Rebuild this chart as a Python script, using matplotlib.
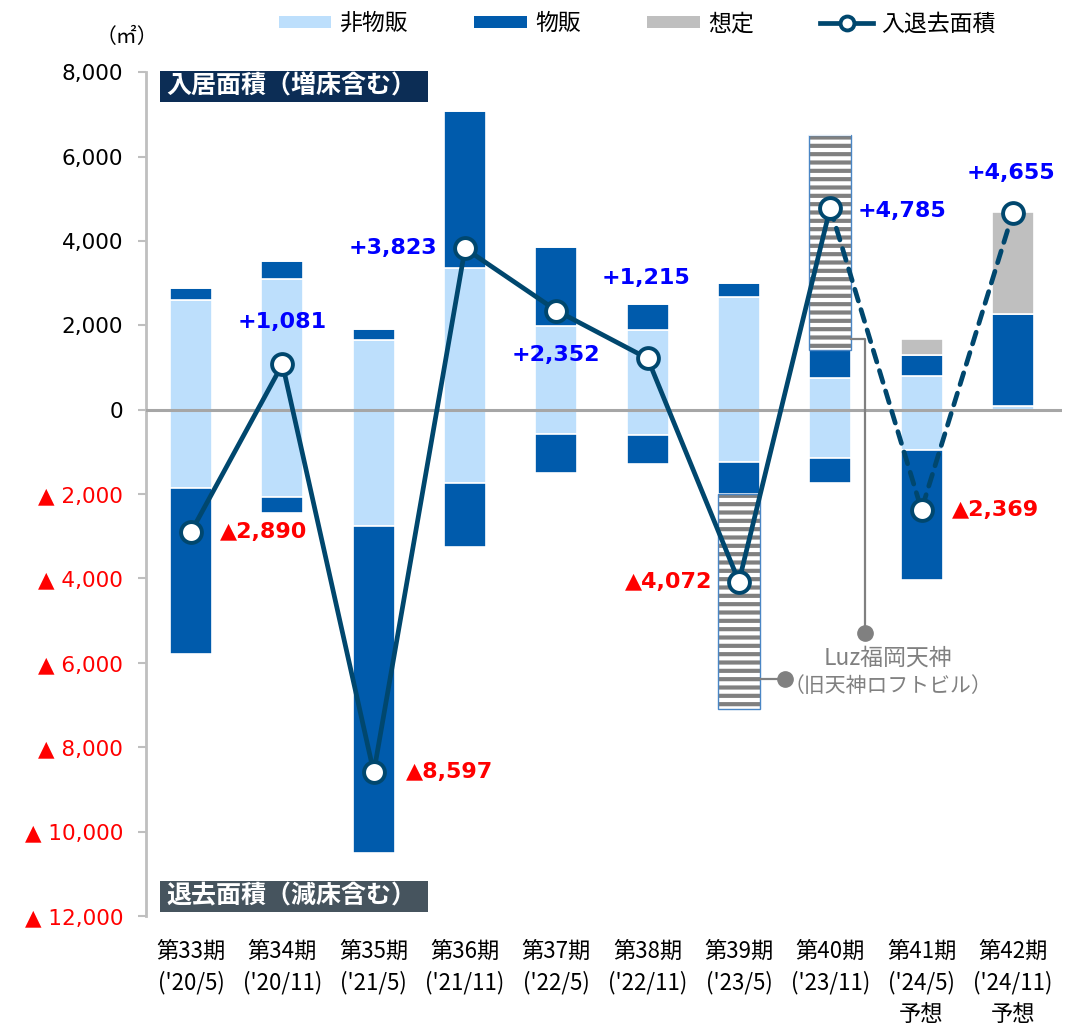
import matplotlib
matplotlib.use("Agg")
import matplotlib.pyplot as plt
from matplotlib.patches import Patch, Rectangle
from matplotlib.lines import Line2D
import numpy as np

plt.rcParams['font.family'] = ['DejaVu Sans', 'Noto Sans CJK JP']
plt.rcParams['hatch.linewidth'] = 3.0
plt.rcParams['hatch.color'] = '#808080'

# periods and fiscal months
periods = ['第33期', '第34期', '第35期', '第36期', '第37期',
           '第38期', '第39期', '第40期', '第41期', '第42期']
months = ["('20/5)", "('20/11)", "('21/5)", "('21/11)", "('22/5)",
          "('22/11)", "('23/5)", "('23/11)", "('24/5)", "('24/11)"]
forecast = [False] * 8 + [True, True]

# move-in area (m2), positive side
in_nonretail = [2600, 3100, 1650, 3370, 1980, 1900, 2670, 760, 790, 80]
in_retail = [290, 420, 270, 3700, 1880, 600, 340, 650, 500, 2190]
in_luz = [0, 0, 0, 0, 0, 0, 0, 5100, 0, 0]
in_assumed = [0, 0, 0, 0, 0, 0, 0, 0, 380, 2425]

# move-out area (m2), negative side
out_nonretail = [-1850, -2070, -2750, -1740, -570, -610, -1230, -1140, -950, -40]
out_retail = [-3930, -369, -7767, -1507, -938, -675, -770, -585, -3089, 0]
out_luz = [0, 0, 0, 0, 0, 0, -5082, 0, 0, 0]

# net change
net = [-2890, 1081, -8597, 3823, 2352, 1215, -4072, 4785, -2369, 4655]

# label placement (offset in points, horizontal alignment)
label_pos = [((21, 0), 'left'), ((0, 30), 'center'), ((23, 0), 'left'),
             ((-20, 0), 'right'), ((0, -32), 'center'), ((-1, 58), 'center'),
             ((-19, 0), 'right'), ((20, -2), 'left'), ((22, 0), 'left'),
             ((-1, 29), 'center')]

C_LIGHT = '#BDDFFC'
C_DARK = '#005BAC'
C_GRAY = '#BFBFBF'
C_LINE = '#00476E'
C_HATCH_EDGE = '#4A86C5'

fig = plt.figure(figsize=(10.67, 10.32), dpi=100)
ax = fig.add_axes([0.1364, 0.1124, 0.859, 0.8176])

x = np.arange(len(periods))
w = 0.46


def stack(series_list, styles):
    base = np.zeros(len(x))
    for vals, st in zip(series_list, styles):
        vals = np.array(vals, dtype=float)
        if st == 'luz':
            ax.bar(x, vals, w, bottom=base, color='white', edgecolor='#808080',
                   linewidth=0, hatch='--', zorder=2)
            mask = vals != 0
            ax.bar(x[mask], vals[mask], w, bottom=base[mask], fill=False,
                   edgecolor=C_HATCH_EDGE, linewidth=1.0, zorder=2)
        else:
            ax.bar(x, vals, w, bottom=base, color=st, edgecolor='white',
                   linewidth=1.2, zorder=2)
        base = base + vals
    return base


stack([in_nonretail, in_retail, in_luz, in_assumed],
      [C_LIGHT, C_DARK, 'luz', C_GRAY])
stack([out_nonretail, out_retail, out_luz],
      [C_LIGHT, C_DARK, 'luz'])

ax.axhline(0, color='#A6A6A6', linewidth=2.2, zorder=3)

# net line: actuals solid, forecast dashed
n_act = forecast.index(True)
ax.plot(x[:n_act], net[:n_act], color=C_LINE, linewidth=3.4, zorder=4,
        solid_capstyle='round')
ax.plot(x[n_act - 1:], net[n_act - 1:], color=C_LINE, linewidth=3.4,
        linestyle=(0, (2.6, 1.9)), zorder=4, dash_capstyle='round')
ax.plot(x, net, linestyle='none', marker='o', markersize=15,
        markerfacecolor='white', markeredgecolor=C_LINE,
        markeredgewidth=2.8, zorder=5)

for xi, v, (off, ha) in zip(x, net, label_pos):
    if v >= 0:
        txt, col = f'+{v:,}', '#0000FF'
    else:
        txt, col = f'▲{-v:,}', '#FF0000'
    ax.annotate(txt, (xi, v), xytext=off, textcoords='offset points',
                ha=ha, va='center', fontsize=16, fontweight='bold',
                color=col, zorder=6)

# axes styling
ax.set_xlim(-0.5, 9.54)
ax.set_ylim(-12000, 8000)
yt = np.arange(-12000, 8001, 2000)
ax.set_yticks(yt)
ax.set_yticklabels([f'{t:,}' if t >= 0 else f'▲ {-t:,}' for t in yt])
for lab, t in zip(ax.get_yticklabels(), yt):
    lab.set_color('black' if t >= 0 else '#FF0000')
ax.tick_params(axis='y', labelsize=15.5, length=6, width=1.5,
               color='#BFBFBF', pad=10)

ax.set_xticks(x)
ax.set_xticklabels([p + '\n' + m + ('\n予想' if f else '')
                    for p, m, f in zip(periods, months, forecast)],
                   fontsize=16, family=['Noto Sans CJK JP'], linespacing=1.45)
ax.tick_params(axis='x', length=0, pad=17)

for s in ['top', 'right', 'bottom']:
    ax.spines[s].set_visible(False)
ax.spines['left'].set_color('#BFBFBF')
ax.spines['left'].set_linewidth(2)

# section headers
def header(text, y0, color):
    fig.patches.append(Rectangle((160 / 1067, 1 - (y0 + 31) / 1032),
                                 268 / 1067, 31 / 1032, transform=fig.transFigure,
                                 facecolor=color, edgecolor='none', zorder=10))
    fig.text(166 / 1067, 1 - (y0 + 15.5) / 1032, text, color='white',
             fontsize=18, fontweight='bold', va='center', ha='left',
             family=['Noto Sans CJK JP'], zorder=11)


header('入居面積（増床含む）', 71, '#0C2D55')
header('退去面積（減床含む）', 881, '#46545E')

fig.text(127 / 1067, 1 - 37 / 1032, '（㎡）', fontsize=15, ha='center',
         va='center', family=['Noto Sans CJK JP'])

# Luz annotation leaders
ann_col = '#808080'
ax.plot([x[7] + w / 2, 7.38, 7.38], [1667, 1667, -5283], color=ann_col,
        linewidth=1.6, zorder=3)
ax.plot([7.38], [-5283], marker='o', markersize=11, color=ann_col, zorder=3)
ax.plot([x[6] + w / 2, 6.5], [-6373, -6373], color=ann_col, linewidth=1.6,
        zorder=3)
ax.plot([6.5], [-6373], marker='o', markersize=11, color=ann_col, zorder=3)
ax.text(7.63, -5900, 'Luz福岡天神', color=ann_col, fontsize=16.5,
        ha='center', va='center', family=['Noto Sans CJK JP'])
ax.text(7.63, -6560, '（旧天神ロフトビル）', color=ann_col, fontsize=15,
        ha='center', va='center', family=['Noto Sans CJK JP'])

# legend
handles = [Patch(facecolor=C_LIGHT, edgecolor='none'),
           Patch(facecolor=C_DARK, edgecolor='none'),
           Patch(facecolor=C_GRAY, edgecolor='none'),
           Line2D([], [], color=C_LINE, linewidth=3.4, marker='o',
                  markersize=10, markerfacecolor='white',
                  markeredgecolor=C_LINE, markeredgewidth=2.8)]
fig.legend(handles, ['非物販', '物販', '想定', '入退去面積'], loc='center',
           bbox_to_anchor=(0.597, 0.977), ncol=4, frameon=False,
           prop={'family': ['Noto Sans CJK JP'], 'size': 16.5},
           handlelength=2.3, handleheight=0.45, handletextpad=0.35,
           columnspacing=2.9)

fig.savefig('out.png', dpi=100)
